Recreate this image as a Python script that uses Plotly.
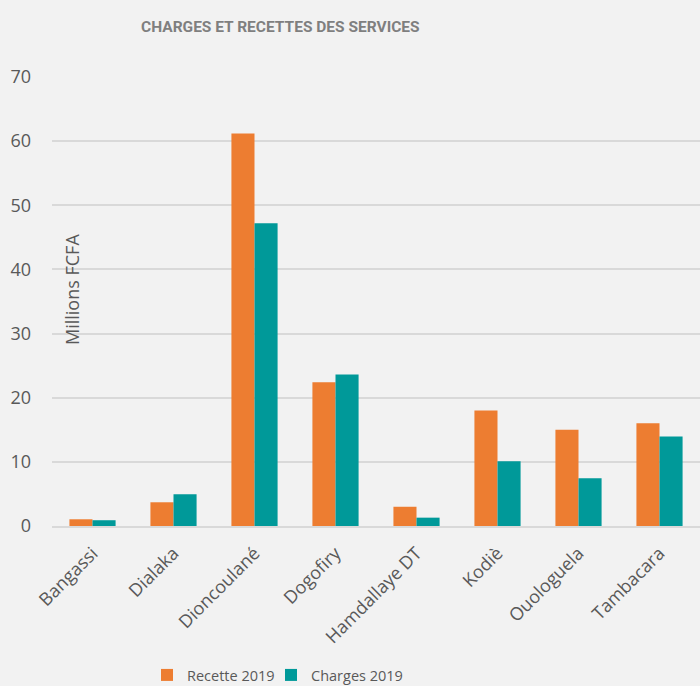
import plotly.graph_objects as go

categories = ["Bangassi", "Dialaka", "Dioncoulané", "Dogofiry", "Hamdallaye DT",
              "Kodiè", "Ouologuela", "Tambacara"]
recette_2019 = [1.05, 3.7, 61.2, 22.4, 3.0, 18.0, 15.0, 16.0]
charges_2019 = [0.9, 4.95, 47.2, 23.6, 1.3, 10.1, 7.45, 13.95]
y_ticks = [0, 10, 20, 30, 40, 50, 60, 70]

W, H = 700, 686
L, R, T, B = 52, 0, 77, 160
pw = W - L - R
ph = H - T - B

def px_x(p):
    return (p - L) / pw

def px_y(p):
    return (H - B - p) / ph

font_main = "Open Sans, Noto Sans, DejaVu Sans, sans-serif"

fig = go.Figure()
fig.add_trace(go.Bar(name="Recette 2019", x=categories, y=recette_2019,
                     marker=dict(color="#ED7D31", line=dict(width=0)),
                     legend="legend"))
fig.add_trace(go.Bar(name="Charges 2019", x=categories, y=charges_2019,
                     marker=dict(color="#009999", line=dict(width=0)),
                     legend="legend2"))

legend_common = dict(orientation="h", xanchor="left", yanchor="middle",
                     y=px_y(675),
                     font=dict(family=font_main, size=14.5, color="#595959"),
                     bgcolor="rgba(0,0,0,0)", itemwidth=30, tracegroupgap=0)

fig.update_layout(
    width=W, height=H,
    margin=dict(l=L, r=R, t=T, b=B, pad=0, autoexpand=False),
    paper_bgcolor="#F2F2F2", plot_bgcolor="#F2F2F2",
    barmode="group", bargap=0.43, bargroupgap=0,
    showlegend=True,
    legend=dict(x=px_x(147), **legend_common),
    legend2=dict(x=px_x(271), **legend_common),
    font=dict(family=font_main, color="#595959"),
)

fig.update_yaxes(range=[0, 70], tickvals=y_ticks, showgrid=True,
                 gridcolor="#D9D9D9", gridwidth=1.5, zeroline=False,
                 showline=False, ticks="", ticklabelstandoff=20,
                 tickfont=dict(family=font_main, size=18, color="#595959"),
                 fixedrange=True)
fig.update_xaxes(tickangle=-45, showline=True, linecolor="#D9D9D9", linewidth=1.5,
                 ticks="", ticklabelstandoff=8,
                 tickfont=dict(family=font_main, size=18, color="#595959"),
                 showgrid=False)

fig.add_annotation(text="<b>CHARGES ET RECETTES DES SERVICES</b>",
                   xref="paper", yref="paper", x=px_x(280), y=px_y(27),
                   xanchor="center", yanchor="middle", showarrow=False,
                   font=dict(family="Roboto, sans-serif", size=15.5, color="#7F7F7F"))
fig.add_annotation(text="Millions FCFA", textangle=-90,
                   xref="paper", yref="paper", x=px_x(72), y=px_y(290),
                   xanchor="center", yanchor="middle", showarrow=False,
                   font=dict(family=font_main, size=18, color="#595959"))

fig.write_html("out.html",
               config={"displayModeBar": False},
               post_script="document.body.style.margin='0';document.body.style.overflow='hidden';")
